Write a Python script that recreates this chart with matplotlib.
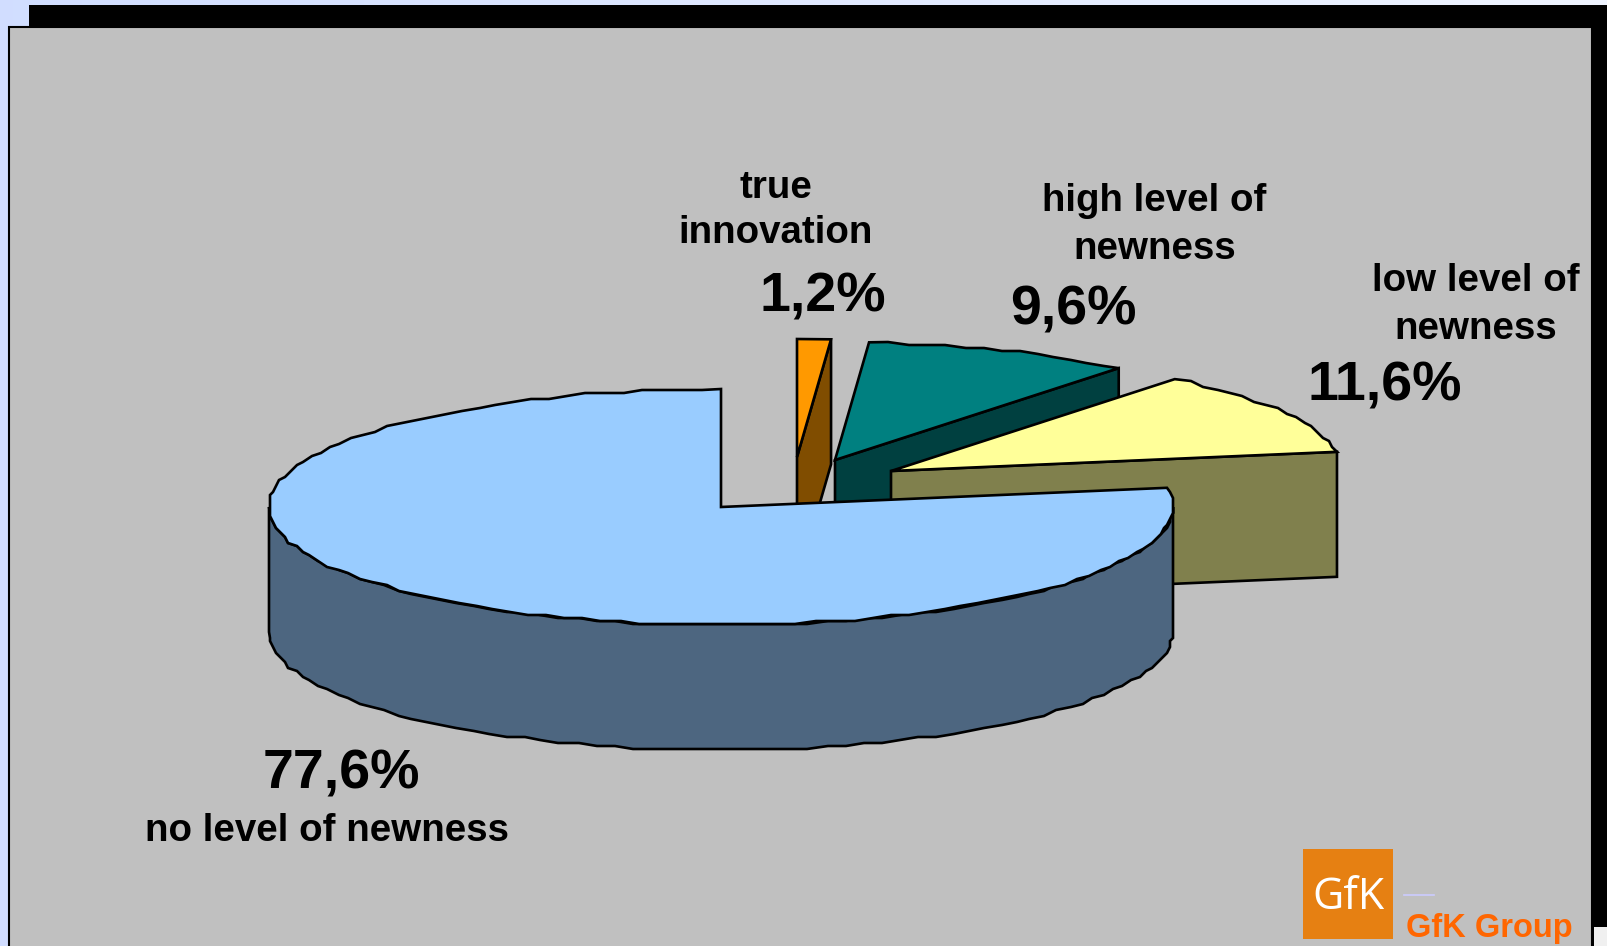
#3d style exploded pie with gfk logo
import numpy as np
from matplotlib import pyplot as plt
from matplotlib.patches import Polygon, Rectangle

plt.rcParams['font.family'] = ['Liberation Sans', 'DejaVu Sans']

categories = ["true\ninnovation", "high level of\nnewness", "low level of\nnewness", "no level of newness"]
values = [1.2, 9.6, 11.6, 77.6]
top_colors = ["#FF9900", "#008080", "#FFFF99", "#99CCFF"]
side_colors = ["#804D00", "#004040", "#80804D", "#4D6680"]

#apex of each slice in pixels, slices are pulled apart
apex_x = [797, 835, 891, 721]
apex_y = [457, 460, 471, 507]
rx = 452
ry = 118
depth = 125
edge = 1.9

fig = plt.figure(figsize=(16.08, 9.46), dpi=100)
ax = fig.add_axes([0, 0, 1, 1])
ax.set_xlim(0, 1608)
ax.set_ylim(946, 0)
ax.axis('off')

#page background and the frame with its shadow
grad = np.linspace(0, 1, 256).reshape(1, -1)
bg_low = np.array([0.82, 0.87, 1.0])
bg_high = np.array([0.94, 0.96, 1.0])
bg = bg_low + (bg_high - bg_low) * grad[..., None]
ax.imshow(bg, extent=(0, 1608, 946, 0), aspect='auto', zorder=0)
ax.add_patch(Rectangle((29, 5), 1579, 941, fc="black", ec="none", zorder=1))
ax.add_patch(Rectangle((1594, 927), 14, 19, fc="#F0F0F0", ec="none", zorder=1))
ax.add_patch(Rectangle((9, 27), 1583, 925, fc="#C0C0C0", ec="black", lw=1.5, zorder=2))


def rim(x0, y0, a1, a2):
    #points on the ellipse, snapped to a rough grid for the stepped outline
    sweep = abs(a2 - a1)
    n = int(sweep / 2.5) + 2 if sweep > 10 else 2
    a = np.radians(np.linspace(a1, a2, n))
    x = x0 + rx * np.cos(a)
    y = y0 - ry * np.sin(a)
    x[1:-1] = np.round(x[1:-1] / 3) * 3
    y[1:-1] = np.round(y[1:-1] / 3) * 3
    return x, y


def draw_poly(x, y, color, z):
    ax.add_patch(Polygon(np.column_stack([x, y]), closed=True, fc=color, ec="black",
                         lw=edge, joinstyle='miter', zorder=z))


start = 90.0
z = 3
for i in range(len(values)):
    sweep = values[i] / sum(values) * 360
    if i < 3:
        #clockwise slices, only the cut face towards the viewer shows
        end = start - sweep
        px, py = rim(apex_x[i], apex_y[i], start, end)
        fx, fy = px[-1], py[-1]
        draw_poly([apex_x[i], fx, fx, apex_x[i]],
                  [apex_y[i], fy, fy + depth, apex_y[i] + depth], side_colors[i], z)
        draw_poly(np.r_[apex_x[i], px], np.r_[apex_y[i], py], top_colors[i], z + 1)
        start = end
    else:
        #big slice goes the other way round from the top to where the others stop
        sx, sy = rim(apex_x[i], apex_y[i], 180, 360)
        draw_poly(np.r_[sx, sx[::-1]], np.r_[sy, sy[::-1] + depth], side_colors[i], z)
        px, py = rim(apex_x[i], apex_y[i], 90, 90 + sweep)
        draw_poly(np.r_[apex_x[i], px], np.r_[apex_y[i], py], top_colors[i], z + 1)
    z += 2


def pct(v):
    return ("%.1f%%" % v).replace(".", ",")


name_size = 27.7
pct_size = 40
ax.text(776, 188, "true", ha='center', va='center', fontsize=name_size, fontweight='bold', zorder=20)
ax.text(776, 233, "innovation", ha='center', va='center', fontsize=name_size, fontweight='bold', zorder=20)
ax.text(823, 297, pct(values[0]), ha='center', va='center', fontsize=pct_size, fontweight='bold', zorder=20)
ax.text(1154, 201, "high level of", ha='center', va='center', fontsize=name_size, fontweight='bold', zorder=20)
ax.text(1155, 249, "newness", ha='center', va='center', fontsize=name_size, fontweight='bold', zorder=20)
ax.text(1073, 310, pct(values[1]), ha='center', va='center', fontsize=pct_size, fontweight='bold', zorder=20)
ax.text(1476, 281, "low level of", ha='center', va='center', fontsize=name_size, fontweight='bold', zorder=20)
ax.text(1476, 329, "newness", ha='center', va='center', fontsize=name_size, fontweight='bold', zorder=20)
ax.text(1385, 386, pct(values[2]), ha='center', va='center', fontsize=pct_size, fontweight='bold', zorder=20)
ax.text(341, 774, pct(values[3]), ha='center', va='center', fontsize=pct_size, fontweight='bold', zorder=20)
ax.text(327, 831, categories[3], ha='center', va='center', fontsize=name_size, fontweight='bold', zorder=20)

#logo
ax.add_patch(Rectangle((1303, 849), 90, 90, fc="#E68012", ec="none", zorder=20))
ax.text(1348, 898, "GfK", ha='center', va='center', color="white", fontsize=31, fontweight='normal',
        family=['Open Sans', 'DejaVu Sans'], zorder=21)
ax.plot([1404, 1434], [895, 895], color="#CCCCFF", lw=1.2, zorder=20)
ax.text(1406, 937, "GfK Group", ha='left', va='baseline', color="#FF6600", fontsize=23.5,
        fontweight='bold', zorder=20)

plt.savefig("out.png", dpi=100)
